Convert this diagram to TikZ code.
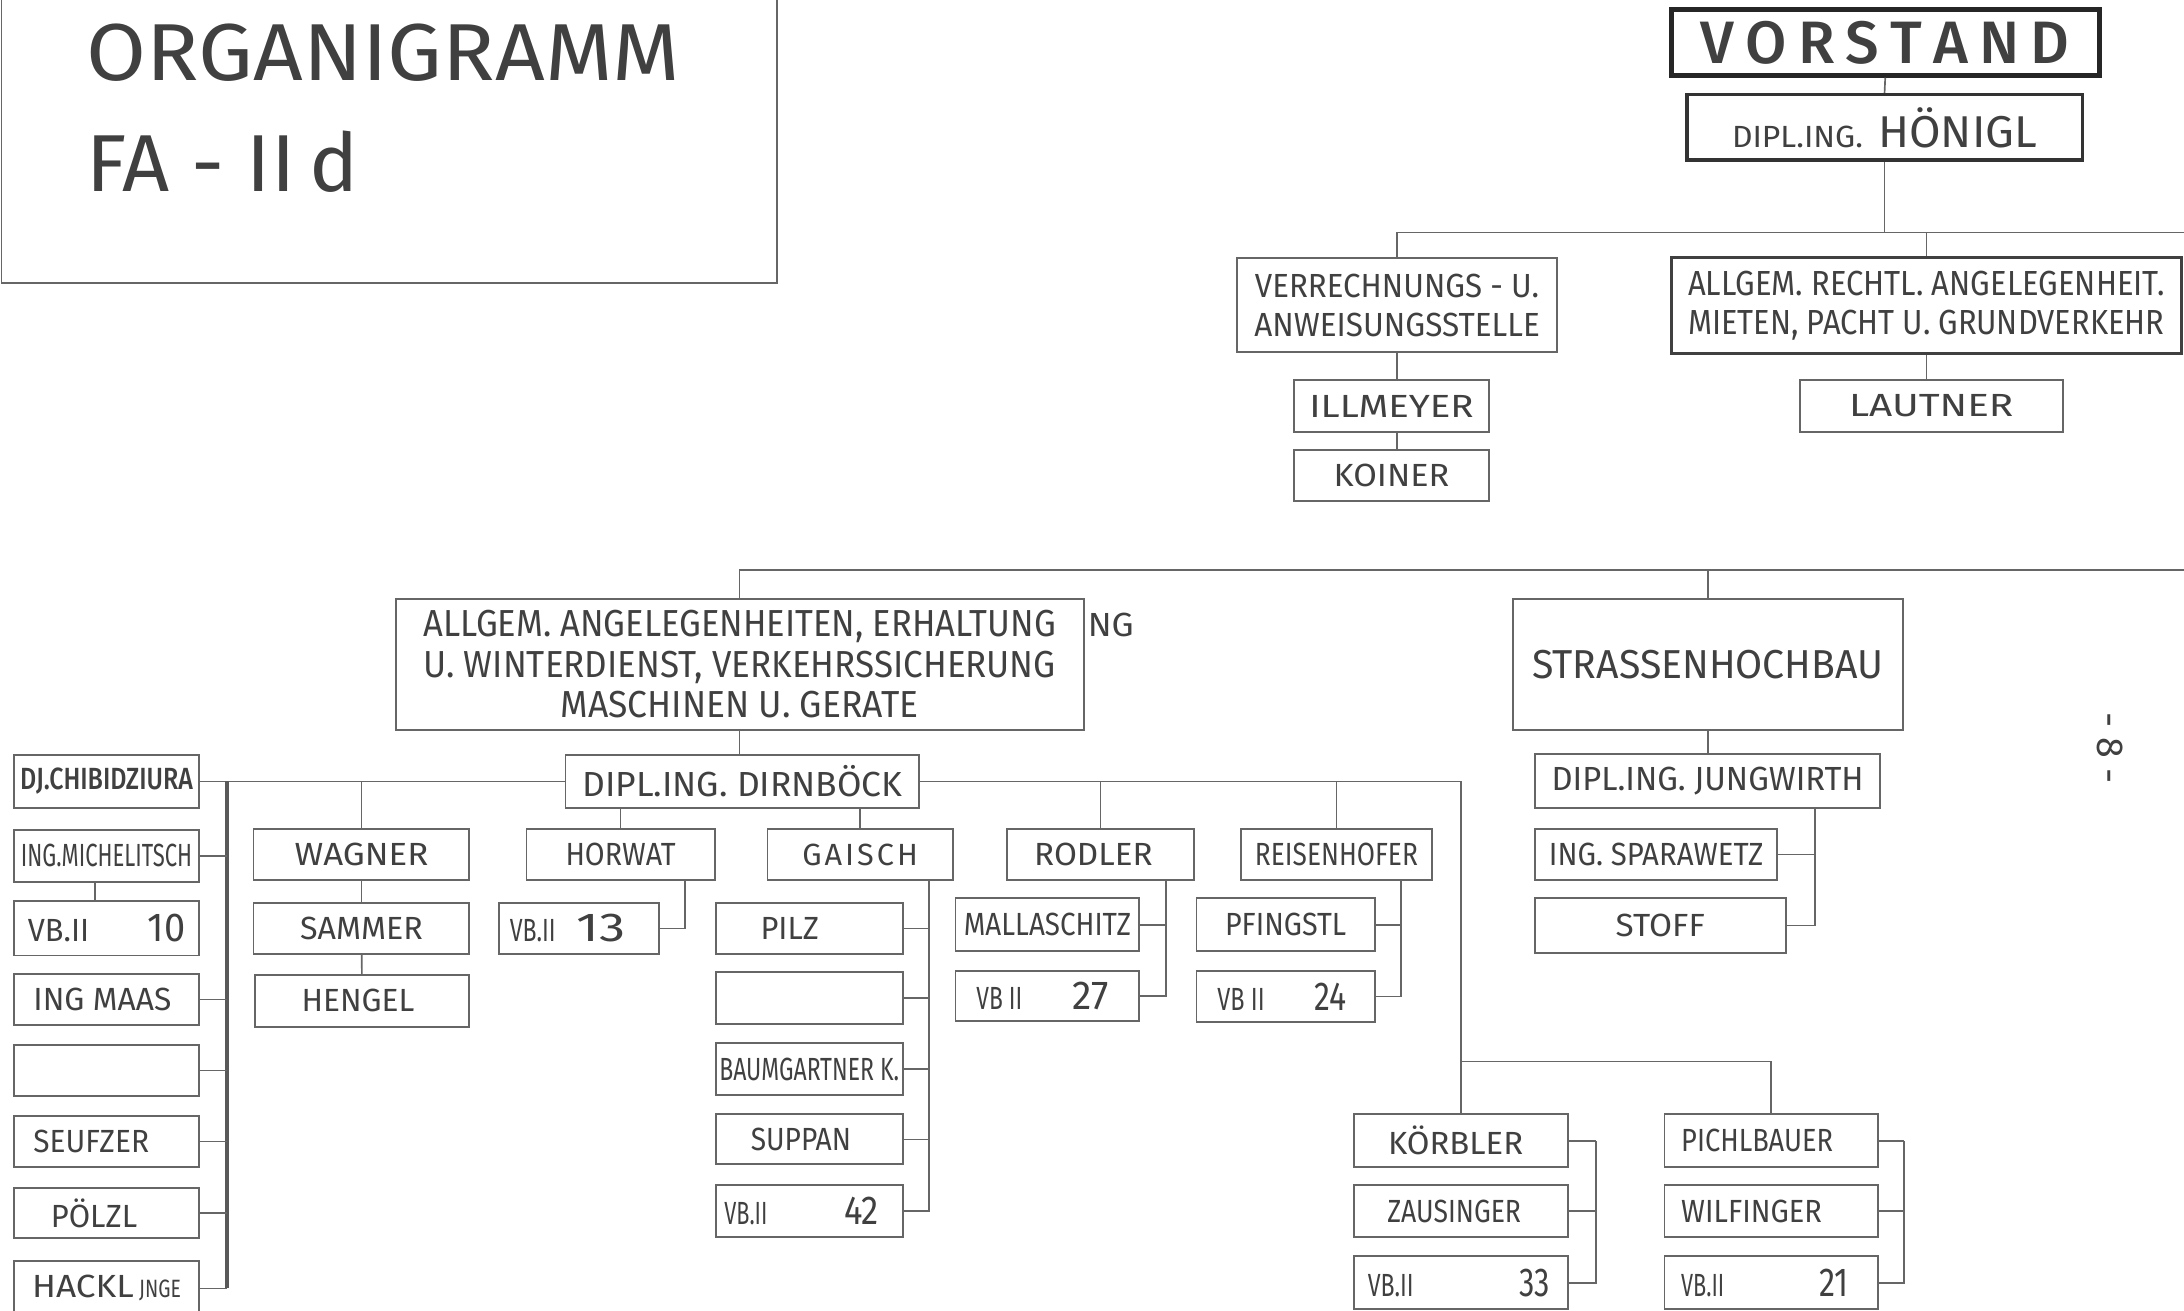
\documentclass[tikz,border=0pt]{standalone}
\usepackage{fontspec}
\setmainfont{Fira Sans}[BoldFont=* Medium]
\usepackage{graphicx}
\usetikzlibrary{positioning,calc}

% text squeezed or stretched to the width of the lettering, optional shift
\newcommand{\nm}[3][0]{\hspace*{#1pt}\hspace*{#1pt}\resizebox{#2pt}{\height}{#3}}
\newcommand{\fs}[1]{\fontsize{#1}{#1}\selectfont}

\tikzset{
  box/.style={draw=black!60, line width=1.4pt, inner sep=0pt, text=black!75, font=\fs{23}},
  wh/.style 2 args={minimum width=#1pt, minimum height=#2pt},
  link/.style={draw=black!60, line width=1.2pt},
  spine/.style={draw=black!65, line width=2.4pt},
}

\begin{document}
\begin{tikzpicture}[x=1pt,y=-1pt]
\useasboundingbox (0,0) rectangle (1568,941);

% title
\draw[link] (1,-5) -- (1,203) -- (558,203) -- (558,-5);
\node[anchor=west, inner sep=0pt, text=black!75, font=\fs{58}] (ttl) at (62,38) {\nm{426}{ORGANIGRAMM}};
\node[anchor=west, inner sep=0pt, text=black!75, font=\fs{58}] (ttlb) at (62,116) {\nm{195}{FA - II\,d}};

% top
\node[box, wh={307}{47}, line width=3.5pt, draw=black!85, font=\fs{43}\bfseries] (vorstand) at (1353.5,30.5)
  {\makebox[265pt][s]{V\hfil O\hfil R\hfil S\hfil T\hfil A\hfil N\hfil D}};
\node[box, wh={284}{47}, line width=2.5pt, draw=black!80] (honigl) at (1353,91.5)
  {\nm{94}{\fs{22}DIPL.ING.}\hspace{11pt}\nm{114}{\fs{32}HÖNIGL}};
\node[box, wh={230}{68}, align=center, font=\fs{24}] (verr) at (1003,219)
  {\nm{204}{VERRECHNUNGS - U.}\\[4pt]\nm{205}{ANWEISUNGSSTELLE}};
\node[box, wh={366}{69}, line width=2pt, draw=black!75, align=center, font=\fs{25}] (recht) at (1383,219.5)
  {\nm{342}{ALLGEM. RECHTL. ANGELEGENHEIT.}\\[3pt]\nm{342}{MIETEN, PACHT U. GRUNDVERKEHR}};
\node[box, wh={140}{37}] (illm) at (999,291.5) {\nm{118}{ILLMEYER}};
\node[box, wh={140}{37}] (koiner) at (999,341.5) {\nm{83}{KOINER}};
\node[box, wh={189}{37}] (lautner) at (1386.5,291.5) {\nm{118}{LAUTNER}};

% departments
\node[box, wh={494}{94}, align=center, font=\fs{27}] (allgem) at (531,477)
  {\nm{454}{ALLGEM. ANGELEGENHEITEN, ERHALTUNG}\\[2pt]\nm{454}{U. WINTERDIENST, VERKEHRSSICHERUNG}\\[2pt]\nm{257}{MASCHINEN U. GERATE}};
\node[inner sep=0pt, text=black!75, font=\fs{24}] (ng) at (797.5,449) {\nm{33}{NG}};
\node[box, wh={280}{94}, font=\fs{29}] (strass) at (1226,477) {\nm{252}{STRASSENHOCHBAU}};
\node[box, wh={254}{38}, font=\fs{25}] (dirn) at (533,561) {\nm{230}{DIPL.ING. DIRNBÖCK}};
\node[box, wh={248}{39}, font=\fs{24}] (jung) at (1226,560.5) {\nm{224}{DIPL.ING. JUNGWIRTH}};
\node[box, wh={174}{37}] (spar) at (1189,613.5) {\nm{154}{ING. SPARAWETZ}};
\node[box, wh={180}{39}] (stoff) at (1192,664.5) {\nm{64}{STOFF}};

% left column
\node[box, wh={133}{38}, font=\fs{22}\bfseries] (chib) at (76.5,561) {\nm{124}{DJ.CHIBIDZIURA}};
\node[box, wh={133}{37}] (mich) at (76.5,614.5) {\nm{123}{ING.MICHELITSCH}};
\node[box, wh={133}{39}] (vb10) at (76.5,666.5)
  {\makebox[113pt]{\nm{44}{VB.II}\hfill\nm{27}{\fs{29}10}}};
\node[box, wh={133}{37}] (maas) at (76.5,717.5) {\nm[-3]{99}{ING MAAS}};
\node[box, wh={133}{37}] (emptyL) at (76.5,768.5) {};
\node[box, wh={133}{37}] (seuf) at (76.5,819.5) {\nm[-11]{83}{SEUFZER}};
\node[box, wh={133}{36}] (polzl) at (76.5,871) {\nm[-9]{62}{PÖLZL}};
\node[box, wh={133}{40}] (hackl) at (76.5,925) {\nm{73}{HACKL}\,\nm{30}{\fs{18}JNGE}};

% wagner
\node[box, wh={155}{37}] (wagner) at (259.5,613.5) {\nm{96}{WAGNER}};
\node[box, wh={155}{37}] (sammer) at (259.5,666.5) {\nm{88}{SAMMER}};
\node[box, wh={154}{37}] (hengel) at (260,718.5) {\nm[-3]{81}{HENGEL}};

% horwat
\node[box, wh={135}{37}] (horwat) at (445.5,613.5) {\nm{79}{HORWAT}};
\node[box, wh={115}{37}] (vb13) at (415.5,666.5)
  {\hspace*{-16pt}\makebox[83pt]{\nm{33}{VB.II}\hfill\nm{35}{\fs{29}13}}};

% gaisch
\node[box, wh={133}{37}, font=\fs{22}] (gaisch) at (617.5,613.5)
  {\makebox[83pt][s]{G\hfil A\hfil I\hfil S\hfil C\hfil H}};
\node[box, wh={134}{37}] (pilz) at (581,666.5) {\nm[-14]{42}{PILZ}};
\node[box, wh={134}{37}] (emptyG) at (581,716.5) {};
\node[box, wh={134}{37}] (baum) at (581,767.5) {\nm{129}{BAUMGARTNER K.}};
\node[box, wh={134}{36}] (suppan) at (581,818) {\nm[-6]{72}{SUPPAN}};
\node[box, wh={134}{37}] (vb42) at (581,869.5)
  {\hspace*{-11pt}\makebox[111pt]{\nm{31}{VB.II}\hfill\nm{25}{\fs{29}42}}};

% rodler
\node[box, wh={134}{37}] (rodler) at (790,613.5) {\nm[-5]{85}{RODLER}};
\node[box, wh={132}{38}] (mall) at (752,664) {\nm{120}{MALLASCHITZ}};
\node[box, wh={132}{36}] (vb27) at (752,715)
  {\hspace*{-7pt}\makebox[95pt]{\nm{33}{VB II}\hfill\nm{26}{\fs{29}27}}};

% reisenhofer
\node[box, wh={137}{37}] (reisen) at (959.5,613.5) {\nm{117}{REISENHOFER}};
\node[box, wh={128}{38}] (pfing) at (923,664) {\nm{87}{PFINGSTL}};
\node[box, wh={128}{37}] (vb24) at (923,715.5)
  {\hspace*{-5pt}\makebox[93pt]{\nm{34}{VB II}\hfill\nm{23}{\fs{29}24}}};

% koerbler, pichlbauer
\node[box, wh={154}{38}] (korb) at (1049,819) {\nm[-4]{97}{KÖRBLER}};
\node[box, wh={154}{37}] (zaus) at (1049,869.5) {\nm[-5]{96}{ZAUSINGER}};
\node[box, wh={154}{38}] (vb33) at (1049,921)
  {\hspace*{-3pt}\makebox[131pt]{\nm{33}{VB.II}\hfill\nm{22}{\fs{29}33}}};
\node[box, wh={153}{38}] (pich) at (1271.5,819) {\nm[-10]{109}{PICHLBAUER}};
\node[box, wh={153}{37}] (wilf) at (1271.5,869.5) {\nm[-14]{101}{WILFINGER}};
\node[box, wh={153}{38}] (vb21) at (1271.5,921)
  {\hspace*{-9pt}\makebox[120pt]{\nm{31}{VB.II}\hfill\nm{21}{\fs{29}21}}};

% page number
\node[rotate=-90, inner sep=0pt, text=black!75, font=\fs{27}] (pg) at (1515,537) {- 8 -};

% connectors, top
\coordinate (busA) at (1568,167);
\draw[link] (vorstand.south) -- (honigl.north);
\draw[link] (honigl.south) -- (honigl.south |- busA);
\draw[link] (verr.north) |- (busA);
\draw[link] (recht.north) -- (recht.north |- busA);
\draw[link] (verr.south) -- (verr.south |- illm.north);
\draw[link] (verr.south |- illm.south) -- (verr.south |- koiner.north);
\draw[link] (recht.south) -- (recht.south |- lautner.north);

% connectors, departments
\coordinate (busB) at (1568,409);
\draw[link] (allgem.north) |- (busB);
\draw[link] (strass.north) -- (strass.north |- busB);
\draw[link] (allgem.south) -- (allgem.south |- dirn.north);
\draw[link] (strass.south) -- (jung.north);
\draw[link] (stoff.east) -| (1303,0 |- jung.south);
\draw[link] (spar.east) -- (spar.east -| 1303,0);

% connectors, groups
\coordinate (busD) at (0,762);
\draw[link] (chib.east) -- (dirn.west);
\draw[link] (dirn.east) -| (korb.north);
\draw[link] (korb.north |- busD) -| (pich.north);
\foreach \n in {wagner,rodler,reisen}
  \draw[link] (\n.north) -- (\n.north |- dirn.east);
\foreach \n in {horwat,gaisch}
  \draw[link] (\n.north) -- (\n.north |- dirn.south);
\draw[link] (wagner) -- (sammer);
\draw[link] (sammer) -- (hengel);
\draw[link] (mich.south -| 68,0) -- (vb10.north -| 68,0);

\draw[spine] (chib.east -| 163,0) -- (hackl.east -| 163,0);
\foreach \n in {mich,maas,emptyL,seuf,polzl,hackl}
  \draw[link] (\n.east) -- (\n.east -| 163,0);

\draw[link] (vb13.east) -| (492,0 |- horwat.south);
\draw[link] (vb42.east) -| (667,0 |- gaisch.south);
\foreach \n in {pilz,emptyG,baum,suppan}
  \draw[link] (\n.east) -- (\n.east -| 667,0);
\draw[link] (vb27.east) -| (837,0 |- rodler.south);
\draw[link] (mall.east) -- (mall.east -| 837,0);
\draw[link] (vb24.east) -| (1006,0 |- reisen.south);
\draw[link] (pfing.east) -- (pfing.east -| 1006,0);
\draw[link] (vb33.east) -| (1146,0 |- korb.east);
\foreach \n in {korb,zaus}
  \draw[link] (\n.east) -- (\n.east -| 1146,0);
\draw[link] (vb21.east) -| (1367,0 |- pich.east);
\foreach \n in {pich,wilf}
  \draw[link] (\n.east) -- (\n.east -| 1367,0);
\end{tikzpicture}
\end{document}
